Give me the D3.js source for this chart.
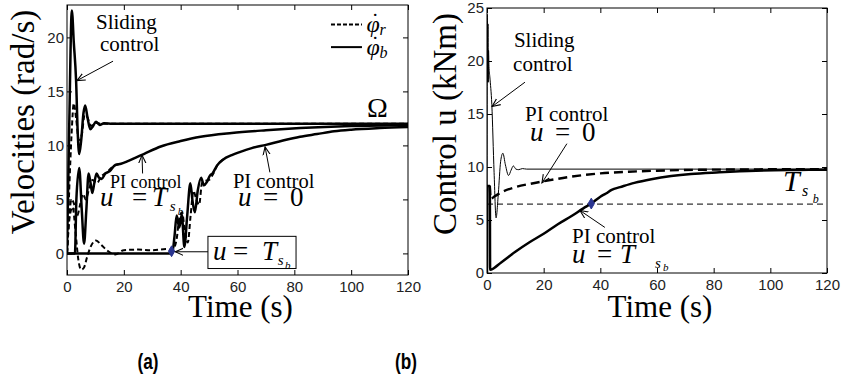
<!DOCTYPE html>
<html>
<head>
<meta charset="utf-8">
<script src="https://cdn.jsdelivr.net/npm/d3@7"></script>
<style>
body { margin: 0; background: #fff; }
svg { display: block; }
</style>
</head>
<body>
<script>
// ---- values ----
var timeTicks = [0, 20, 40, 60, 80, 100, 120];
var velTicks = [0, 5, 10, 15, 20];
var ctrlTicks = [0, 5, 10, 15, 20, 25];
var omega = 12;      // rad/s
var tsb = 6.5;       // kNm
var switchT = 36.8;  // s

// (a) velocities, [time s, rad/s]
var slidingWr = [[0,0],[0.8,6],[1.6,11],[2.4,13.9],[3.2,12.5],[4.2,10.5],[5.2,11],[6.2,12.8],[7.2,12.6],[8.4,11.8],[10,12.1],[12,12],[120,12]];
var slidingWb = [[0,0],[0.8,12],[1.7,22.5],[2.4,19.5],[3.2,16],[3.8,11],[4.3,9.2],[5,10.5],[5.8,13],[6.4,13.7],[7.2,12.6],[8.2,11.5],[9.2,11.8],[10.2,12.2],[11.5,11.9],[13,12.05],[16,12],[120,12]];
var piTsWr = [[0,0],[0.8,3.5],[1.6,5],[2.6,4.5],[3.6,3.5],[4.6,4.5],[5.6,5.5],[6.6,5],[7.8,6],[9,6.8],[10.5,6.5],[12,7.1],[14,7.5],[16,8],[19,8.3]];
var piTsWb = [[0,0],[2.8,0],[3.3,5],[4.3,7.9],[5.2,4],[6,0.9],[6.8,4],[7.6,7.4],[8.3,6.5],[8.9,5.6],[9.6,6.5],[10.4,7.4],[11.3,7],[12.2,6.9],[13.5,7.4],[15,7.6],[17,8.2],[19,8.3],[21,8.5],[24,8.85],[27,9.2],[33,9.9],[40,10.4],[47,10.8],[58,11.15],[70,11.4],[82,11.6],[100,11.8],[120,11.9]];
var piZeroWr = [[0,0],[1,3.5],[2,4.3],[3,2],[4,-0.6],[5,-1.5],[6,-1.3],[7,-0.4],[8.3,0.6],[10.2,1.2],[12,0.8],[14.5,0.2],[17,-0.1],[20,0.3],[25,0.35],[30,0.3],[35,0.4],[37,0.3],[38.5,1.2],[39.5,3.2],[40.5,3.8],[41.5,2],[42.5,1],[43.5,3.5],[44.5,5.8],[45.5,5],[46.5,4.5],[47.5,6.5],[48.5,6.7],[50,6.8],[51.5,7.4],[53,8.2],[55,8.7]];
var piZeroWb = [[0,0],[37,0],[37.8,1.5],[38.6,3.5],[39.5,2.4],[40.4,3.6],[41.3,0.6],[42.3,3.5],[43.4,6.5],[44.2,4.8],[45,3.8],[46,5.8],[47.2,7],[48.2,6.3],[49.2,6.6],[50.3,7.2],[51.2,7.4],[52.7,8.1],[55,8.7],[58,9.1],[61,9.4],[65,9.75],[70,10.05],[76,10.45],[82,10.8],[88,11.05],[94,11.3],[100,11.45],[110,11.6],[120,11.7]];

// (b) control torque, [time s, kNm]
var slidingU = [[0,0],[0.1,24.4],[0.25,18],[0.35,23.5],[0.45,18],[0.55,21],[0.7,19.5],[1,18.5],[1.7,15.9],[2.5,9.5],[3.2,5.2],[4,7.5],[4.8,10.5],[5.6,11.3],[6.5,10.2],[7.6,9.2],[8.5,9.7],[9.3,10.1],[10.2,9.8],[11.2,9.75],[12.5,9.85],[14,9.8],[120,9.8]];
var piZeroU = [[1,8.2],[1.3,7],[2.5,7.2],[5,7.6],[10,8.1],[15,8.4],[20,8.65],[30,9.1],[40,9.4],[50,9.55],[60,9.65],[80,9.75],[120,9.8]];
var piTsU = [[0,0],[0.05,8.2],[1,8.2],[1.1,0.3],[5,1],[10,2],[15,2.9],[20,3.7],[25,4.6],[30,5.4],[34,6.1],[36.8,6.55],[40,7.2],[42,7.5],[44,7.85],[47,8.1],[52,8.5],[58,8.85],[65,9.15],[72,9.35],[82,9.5],[95,9.65],[110,9.72],[120,9.75]];

var W = 844, H = 387;
var serif = "'Liberation Serif','Times New Roman',serif";
var sans = "'Liberation Sans',Arial,sans-serif";

var svg = d3.select('body').append('svg')
	.attr('width', W)
	.attr('height', H);

var defs = svg.append('defs');
defs.append('marker')
	.attr('id', 'arr')
	.attr('viewBox', '0 -5 10 10')
	.attr('refX', 9)
	.attr('refY', 0)
	.attr('markerWidth', 9)
	.attr('markerHeight', 9)
	.attr('markerUnits', 'userSpaceOnUse')
	.attr('orient', 'auto')
	.append('path')
	.attr('d', 'M0,-4L9,0L0,4')
	.attr('fill', 'none')
	.attr('stroke', '#000')
	.attr('stroke-width', 1.2);

function panel(cfg) {
	var x = d3.scaleLinear().domain([0, 120]).range([cfg.left, cfg.right]);
	var y = d3.scaleLinear().domain(cfg.yDomain).range([cfg.bottom, cfg.top]);
	var g = svg.append('g');

	defs.append('clipPath').attr('id', cfg.id)
		.append('rect')
		.attr('x', cfg.left).attr('y', cfg.top)
		.attr('width', cfg.right - cfg.left).attr('height', cfg.bottom - cfg.top);

	// axes, ticks pointing inwards on all four sides
	var ax = [
		[d3.axisBottom(x).tickValues(timeTicks), 'translate(0,' + cfg.bottom + ')'],
		[d3.axisTop(x).tickValues(timeTicks).tickFormat(''), 'translate(0,' + cfg.top + ')'],
		[d3.axisLeft(y).tickValues(cfg.ticks), 'translate(' + cfg.left + ',0)'],
		[d3.axisRight(y).tickValues(cfg.ticks).tickFormat(''), 'translate(' + cfg.right + ',0)']
	];
	ax.forEach(function (a, i) {
		var axis = a[0].tickSizeInner(-5).tickSizeOuter(0).tickPadding(i < 2 ? 6 : 3);
		var ag = g.append('g').attr('transform', a[1]).call(axis);
		ag.select('.domain').remove();
		ag.selectAll('line').attr('stroke', '#000');
		ag.selectAll('text')
			.attr('fill', '#222')
			.style('font-family', sans)
			.style('font-size', '15px');
	});

	g.append('rect')
		.attr('x', cfg.left).attr('y', cfg.top)
		.attr('width', cfg.right - cfg.left).attr('height', cfg.bottom - cfg.top)
		.attr('fill', 'none')
		.attr('stroke', '#000')
		.attr('stroke-width', 1);

	var lines = g.append('g').attr('clip-path', 'url(#' + cfg.id + ')');
	var line = d3.line()
		.x(function (d) { return x(d[0]); })
		.y(function (d) { return y(d[1]); })
		.curve(d3.curveMonotoneX);

	return { g: g, x: x, y: y, lines: lines, line: line };
}

function curve(p, data, width, dash) {
	p.lines.append('path')
		.datum(data)
		.attr('d', p.line)
		.attr('fill', 'none')
		.attr('stroke', '#000')
		.attr('stroke-width', width)
		.attr('stroke-linejoin', 'round')
		.attr('stroke-dasharray', dash || null);
}

function label(p, t, v, str, size, italic) {
	return p.g.append('text')
		.attr('x', p.x(t))
		.attr('y', p.y(v))
		.style('font-family', serif)
		.style('font-size', size + 'px')
		.style('font-style', italic ? 'italic' : 'normal')
		.text(str);
}

// one text element made of pieces: [str, dt, dv, size, italic]
function mathText(p, t, v, pieces) {
	var txt = p.g.append('text')
		.style('font-family', serif);
	pieces.forEach(function (s) {
		txt.append('tspan')
			.attr('x', p.x(t + s[1]))
			.attr('y', p.y(v + s[2]))
			.style('font-size', s[3] + 'px')
			.style('font-style', s[4] ? 'italic' : 'normal')
			.text(s[0]);
	});
	return txt;
}

function uEqTsb(p, t, v, dt) {
	return mathText(p, t, v, [
		['u', 0, 0, 27, true],
		['=', dt[0], 0, 27, false],
		['T', dt[1], 0, 27, true],
		['s', dt[2], -0.45, 15, true],
		['b', dt[3], -0.75, 11, true]
	]);
}

function uEq0(p, t, v) {
	return mathText(p, t, v, [
		['u', 0, 0, 27, true],
		['=', 8.8, 0, 27, false],
		['0', 18.3, 0, 27, false]
	]);
}

// phi with a dot above and a subscript, as one text
function phiDot(p, t, v, sub) {
	var x0 = p.x(t), y0 = p.y(v);
	var txt = p.g.append('text')
		.style('font-family', serif);
	txt.append('tspan').attr('x', x0).attr('y', y0)
		.style('font-size', '24px').style('font-style', 'italic').text('\u03C6');
	txt.append('tspan').attr('x', x0 + 5).attr('y', y0 - 4)
		.style('font-size', '22px').text('\u02D9');
	txt.append('tspan').attr('x', x0 + 13).attr('y', y0 + 3)
		.style('font-size', '16px').style('font-style', 'italic').text(sub);
}

function diamond(p, t, v) {
	p.g.append('path')
		.attr('d', d3.symbol().type(d3.symbolDiamond).size(34))
		.attr('transform', 'translate(' + p.x(t) + ',' + p.y(v) + ')')
		.attr('fill', '#2a3591')
		.attr('stroke', '#2a3591')
		.attr('stroke-width', 1);
}

function arrow(p, t0, v0, t1, v1) {
	p.g.append('line')
		.attr('x1', p.x(t0)).attr('y1', p.y(v0))
		.attr('x2', p.x(t1)).attr('y2', p.y(v1))
		.attr('stroke', '#000')
		.attr('stroke-width', 1)
		.attr('marker-end', 'url(#arr)');
}

// ---------- panel (a) ----------
var a = panel({ id: 'clipA', left: 67, right: 408, top: 5, bottom: 275, yDomain: [-2, 23], ticks: velTicks });

curve(a, slidingWr, 2, '5,3');
curve(a, piTsWr, 2, '5,3');
curve(a, piZeroWr, 2, '5,3');
curve(a, slidingWb, 2.5);
curve(a, piTsWb, 2.5);
curve(a, piZeroWb, 2.5);

diamond(a, switchT, 0.2);

mathText(a, 10.2, 20.8, [['Sliding', 0, 0, 21, false], ['control', 1.4, -2.1, 21, false]]);
arrow(a, 16.2, 17.8, 3.5, 16.0);

// legend
a.g.append('line')
	.attr('x1', a.x(92.9)).attr('x2', a.x(103.8))
	.attr('y1', a.y(21.2)).attr('y2', a.y(21.2))
	.attr('stroke', '#000').attr('stroke-width', 2).attr('stroke-dasharray', '4,2');
a.g.append('line')
	.attr('x1', a.x(92.9)).attr('x2', a.x(103.8))
	.attr('y1', a.y(19.1)).attr('y2', a.y(19.1))
	.attr('stroke', '#000').attr('stroke-width', 2);
phiDot(a, 105.4, 20.5, 'r');
phiDot(a, 105.4, 18.4, 'b');

label(a, 105.6, omega + 0.65, '\u03A9', 28);

label(a, 15.1, 6.1, 'PI control', 18);
uEqTsb(a, 11.6, 4.35, [11.3, 18.3, 24.6, 27.4]);
arrow(a, 26.6, 7.4, 26.4, 9.1);

label(a, 58.4, 6.1, 'PI control', 20.5);
uEq0(a, 60.2, 4.35);
arrow(a, 71.4, 7.5, 69.7, 9.86);

a.g.append('rect')
	.attr('x', a.x(49.6)).attr('y', a.y(1.58))
	.attr('width', a.x(80.6) - a.x(49.6))
	.attr('height', a.y(-1.4) - a.y(1.58))
	.attr('fill', '#fff')
	.attr('stroke', '#000')
	.attr('stroke-width', 1);
uEqTsb(a, 51.4, -0.65, [7, 17.2, 22.8, 25.3]);
arrow(a, 49.6, 0.15, 38.1, 0.15);

// ---------- panel (b) ----------
var b = panel({ id: 'clipB', left: 487, right: 827, top: 8, bottom: 273, yDomain: [0, 25], ticks: ctrlTicks });

b.lines.append('line')
	.attr('x1', b.x(0)).attr('x2', b.x(120))
	.attr('y1', b.y(tsb)).attr('y2', b.y(tsb))
	.attr('stroke', '#000')
	.attr('stroke-width', 1)
	.attr('stroke-dasharray', '6,4');

curve(b, slidingU, 1);
curve(b, piZeroU, 2.4, '9,5');
curve(b, piTsU, 2.5);

diamond(b, switchT, 6.55);

mathText(b, 9.5, 21.3, [['Sliding', 0, 0, 21, false], ['control', -0.3, -2.2, 21, false]]);
arrow(b, 13.4, 18, 1.8, 15.7);

label(b, 13.4, 14.3, 'PI control', 21);
uEq0(b, 15.2, 12.45);
arrow(b, 28.2, 12.2, 19.4, 8.5);

mathText(b, 104.5, 7.7, [['T', 0, 0, 30, true], ['s', 6.7, -0.42, 16, true], ['b', 10.5, -1.1, 12, true]]);

label(b, 30, 2.85, 'PI control', 21);
uEqTsb(b, 30, 0.95, [8.8, 16.9, 29.3, 32.1]);
arrow(b, 41.6, 4.3, 32.8, 5.9);

// ---------- axis titles and captions ----------
function ytitle(xp, yp, str) {
	svg.append('text')
		.attr('transform', 'translate(' + xp + ',' + yp + ') rotate(-90)')
		.attr('text-anchor', 'middle')
		.style('font-family', serif)
		.style('font-size', '33px')
		.text(str);
}
ytitle(34, 122, 'Velocities (rad/s)');
ytitle(456, 124, 'Control u (kNm)');

[a, b].forEach(function (p) {
	svg.append('text')
		.attr('x', (p.x(0) + p.x(120)) / 2 + 3)
		.attr('y', 317)
		.attr('text-anchor', 'middle')
		.style('font-family', serif)
		.style('font-size', '31px')
		.text('Time (s)');
});

[[148, '(a)'], [406, '(b)']].forEach(function (d) {
	svg.append('text')
		.attr('transform', 'translate(' + d[0] + ',369) scale(0.78,1)')
		.attr('text-anchor', 'middle')
		.style('font-family', sans)
		.style('font-weight', 'bold')
		.style('font-size', '22px')
		.text(d[1]);
});
</script>
</body>
</html>
